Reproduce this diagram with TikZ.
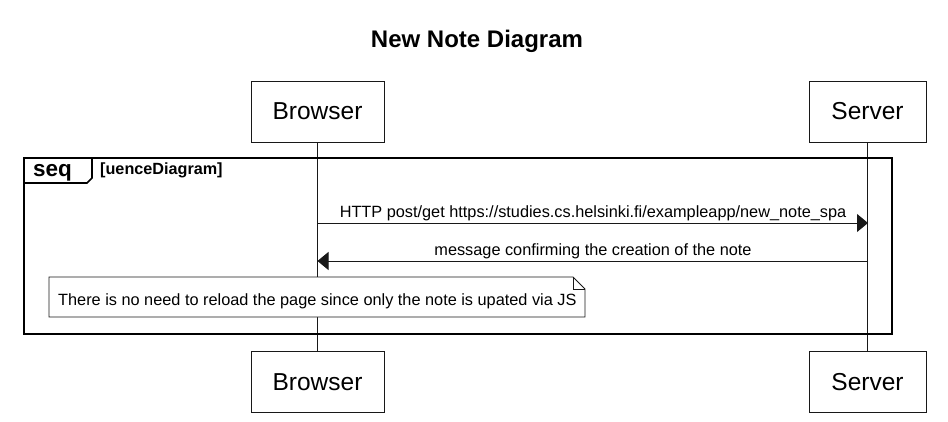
\documentclass[tikz,border=0pt]{standalone}
\usepackage{fontspec}
\setmainfont{Liberation Sans}
\usetikzlibrary{arrows.meta}
\definecolor{ink}{HTML}{181818}
\tikzset{
  part/.style={draw=ink, line width=0.9pt, fill=white, minimum height=61pt, inner sep=0pt,
    font=\fontsize{24.5}{28}\selectfont},
  life/.style={draw=ink, line width=0.9pt},
  frameline/.style={draw=black, line width=1.6pt},
  msg/.style={draw=ink, line width=0.9pt, -{Triangle[length=11pt,width=18pt]}},
  lbl/.style={inner sep=0pt, anchor=base, font=\fontsize{16.3}{19}\selectfont},
  notebox/.style={draw=ink, line width=0.8pt, fill=white},
}
\begin{document}
\begin{tikzpicture}[x=1pt,y=-1pt]
\useasboundingbox (0,0) rectangle (948,422);
\fill[white] (0,0) rectangle (948,422);

% title
\node[inner sep=0pt, anchor=base, font=\bfseries\fontsize{24}{28}\selectfont] (title) at (477,48) {New Note Diagram};

% participants
\node[part, minimum width=133pt] (bt) at (317.5,111.5) {Browser};
\node[part, minimum width=117pt] (st) at (867.5,111.5) {Server};
\node[part, minimum width=133pt] (bb) at (317.5,382) {Browser};
\node[part, minimum width=117pt] (sb) at (867.5,382) {Server};

% lifelines
\draw[life] (bt.south) -- (bb.north);
\draw[life] (st.south) -- (sb.north);

% frame
\draw[frameline] (24,158) rectangle (892,334);
\draw[frameline, line join=miter] (24,183) -- (87,183) -- (92,178) -- (92,158);
\node[anchor=base west, inner sep=0pt, font=\bfseries\fontsize{22.5}{26}\selectfont] (seq) at (33,177) {seq};
\node[anchor=base west, inner sep=0pt, font=\bfseries\fontsize{16.2}{19}\selectfont] (cond) at (100,175) {[uenceDiagram]};

% message 1
\coordinate (b1) at (317.5,223);
\coordinate (s1) at (868,223);
\draw[msg] (b1) -- (s1);
\node[lbl] (l1) at (593,218) {HTTP post/get https://studies.cs.helsinki.fi/exampleapp/new\_note\_spa};

% message 2
\coordinate (s2) at (868,261);
\coordinate (b2) at (317.5,261);
\draw[msg] (s2) -- (b2);
\node[lbl] (l2) at (593,256) {message confirming the creation of the note};

% note
\draw[notebox] (49,277) -- (573,277) -- (585,289) -- (585,317) -- (49,317) -- cycle;
\draw[draw=ink, line width=0.8pt] (573,277) -- (573,289) -- (585,289);
\node[lbl, anchor=base west] (nt) at (58,305.5) {There is no need to reload the page since only the note is upated via JS};
\end{tikzpicture}
\end{document}
